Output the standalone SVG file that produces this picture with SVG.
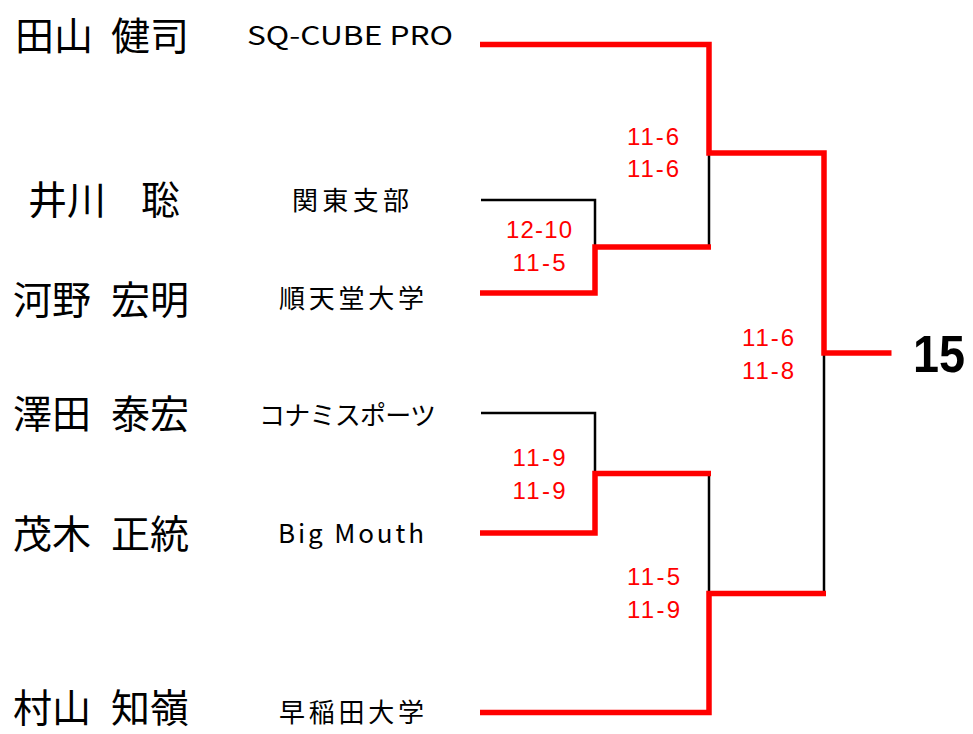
<svg xmlns="http://www.w3.org/2000/svg" width="973" height="734" viewBox="0 0 973 734">
<style>
.name{font-family:"Noto Sans CJK JP","Noto Sans",sans-serif;font-size:39px;fill:#000}
.team{font-family:"Noto Sans CJK JP","Noto Sans",sans-serif;font-size:26px;fill:#000;text-anchor:middle}
.score{font-family:"Liberation Sans",Arial,sans-serif;font-size:24px;fill:#ff0000;text-anchor:middle}
.win{fill:none;stroke:#ff0000;stroke-width:5.5;stroke-linejoin:miter;stroke-linecap:butt}
.lose{fill:none;stroke:#000;stroke-width:2.5;stroke-linecap:butt}
.final{font-family:"Liberation Sans",Arial,sans-serif;font-size:52px;font-weight:bold;fill:#000}
</style>
<rect width="973" height="734" fill="#fff"/>
<g id="connectors">
<path class="lose" d="M481,200 H595 V247"/>
<path class="lose" d="M481,413 H595 V473"/>
<path class="lose" d="M709,153 V247"/>
<path class="lose" d="M709,473 V593"/>
<path class="lose" d="M824,353 V593"/>
<path class="win" d="M480,44.5 H709 V153 H824 V353 H891.5"/>
<path class="win" d="M480,293 H595 V247 H711"/>
<path class="win" d="M480,533 H595 V473.5 H711"/>
<path class="win" d="M480,712.5 H709 V593.5 H826"/>
</g>
<g id="player-tayama">
<text class="name" y="50"><tspan x="15">田山</tspan> <tspan x="111">健司</tspan></text>
<text class="team" x="350" y="45" textLength="206" lengthAdjust="spacingAndGlyphs">SQ-CUBE PRO</text>
</g>
<g id="player-ikawa">
<text class="name" y="214"><tspan x="28">井川</tspan> <tspan x="141">聡</tspan></text>
<text class="team" x="350.5" y="210" textLength="117" lengthAdjust="spacing">関東支部</text>
</g>
<g id="player-kono">
<text class="name" y="314"><tspan x="13">河野</tspan> <tspan x="111">宏明</tspan></text>
<text class="team" x="351.5" y="308" textLength="145" lengthAdjust="spacing">順天堂大学</text>
</g>
<g id="player-sawada">
<text class="name" y="428"><tspan x="13">澤田</tspan> <tspan x="111">泰宏</tspan></text>
<text class="team" x="347.5" y="425" textLength="177" lengthAdjust="spacing">コナミスポーツ</text>
</g>
<g id="player-mogi">
<text class="name" y="548"><tspan x="13">茂木</tspan> <tspan x="111">正統</tspan></text>
<text class="team" x="351" y="543" textLength="146" lengthAdjust="spacing">Big Mouth</text>
</g>
<g id="player-murayama">
<text class="name" y="722"><tspan x="13">村山</tspan> <tspan x="111">知嶺</tspan></text>
<text class="team" x="351.5" y="722" textLength="145" lengthAdjust="spacing">早稲田大学</text>
</g>
<g id="scores">
<text class="score" x="653" y="145" textLength="52" lengthAdjust="spacing">11-6</text>
<text class="score" x="653" y="177" textLength="52" lengthAdjust="spacing">11-6</text>
<text class="score" x="539" y="238" textLength="66" lengthAdjust="spacing">12-10</text>
<text class="score" x="539" y="271" textLength="53" lengthAdjust="spacing">11-5</text>
<text class="score" x="768" y="346" textLength="52" lengthAdjust="spacing">11-6</text>
<text class="score" x="768" y="379" textLength="52" lengthAdjust="spacing">11-8</text>
<text class="score" x="539" y="466" textLength="53" lengthAdjust="spacing">11-9</text>
<text class="score" x="539" y="499" textLength="53" lengthAdjust="spacing">11-9</text>
<text class="score" x="653.5" y="585" textLength="53" lengthAdjust="spacing">11-5</text>
<text class="score" x="653.5" y="618" textLength="53" lengthAdjust="spacing">11-9</text>
</g>
<g id="final-result">
<text class="final" x="913" y="372" textLength="52" lengthAdjust="spacingAndGlyphs">15</text>
</g>
</svg>
